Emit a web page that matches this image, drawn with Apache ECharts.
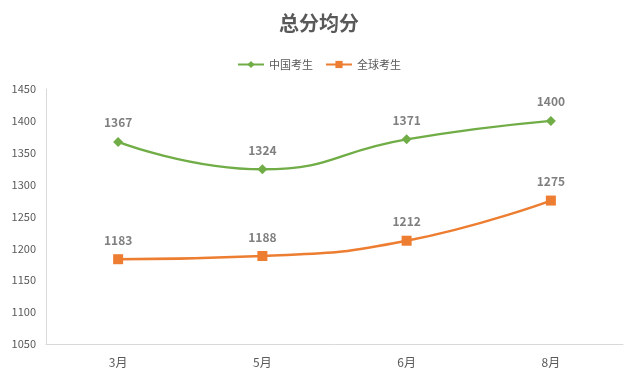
<!DOCTYPE html>
<html><head><meta charset="utf-8">
<script src="https://cdn.jsdelivr.net/npm/echarts@6/dist/echarts.min.js"></script>
<style>html,body{margin:0;padding:0;background:#fff}#c{width:638px;height:379px}</style>
</head><body><div id="c"></div>
<script>
const categories = ['3月', '5月', '6月', '8月'];
const chinaScores = [1367, 1324, 1371, 1400];
const globalScores = [1183, 1188, 1212, 1275];
const yTicks = { min: 1050, max: 1450, interval: 50 };

const chart = echarts.init(document.getElementById('c'));
const font = '"Microsoft YaHei","Noto Sans CJK SC","Noto Sans",sans-serif';
chart.setOption({
  backgroundColor: '#fff',
  title: {
    text: '总分均分', left: 'center', top: 8,
    textStyle: { fontSize: 20, fontWeight: 'bold', color: '#595959', fontFamily: font }
  },
  legend: {
    top: 54, left: 'center', itemWidth: 26, itemHeight: 9, itemGap: 12,
    textStyle: { fontSize: 11, color: '#595959', fontFamily: font },
    data: ['中国考生', '全球考生']
  },
  grid: { left: 46, right: 15, top: 89, bottom: 35 },
  xAxis: {
    type: 'category', data: categories, boundaryGap: true,
    axisLine: { lineStyle: { color: '#d9d9d9', width: 1 } },
    axisTick: { show: false },
    axisLabel: { color: '#595959', fontSize: 12, margin: 12, fontFamily: font }
  },
  yAxis: {
    type: 'value', min: yTicks.min, max: yTicks.max, interval: yTicks.interval,
    axisLine: { show: true, lineStyle: { color: '#d9d9d9' } },
    axisTick: { show: false },
    splitLine: { show: false },
    axisLabel: { color: '#595959', fontSize: 11, margin: 10, fontFamily: font, formatter: v => String(v) }
  },
  series: [
    {
      name: '中国考生', type: 'line', smooth: true, data: chinaScores,
      symbol: 'diamond', symbolSize: 10,
      lineStyle: { color: '#70AD47', width: 2.5 },
      itemStyle: { color: '#70AD47' },
      label: { show: true, position: 'top', distance: 8, color: '#7f7f7f', fontSize: 12, fontWeight: 'bold', fontFamily: font }
    },
    {
      name: '全球考生', type: 'line', smooth: true, data: globalScores,
      symbol: 'rect', symbolSize: 10,
      lineStyle: { color: '#ED7D31', width: 2.5 },
      itemStyle: { color: '#ED7D31' },
      label: { show: true, position: 'top', distance: 8, color: '#7f7f7f', fontSize: 12, fontWeight: 'bold', fontFamily: font }
    }
  ]
});
</script></body></html>
